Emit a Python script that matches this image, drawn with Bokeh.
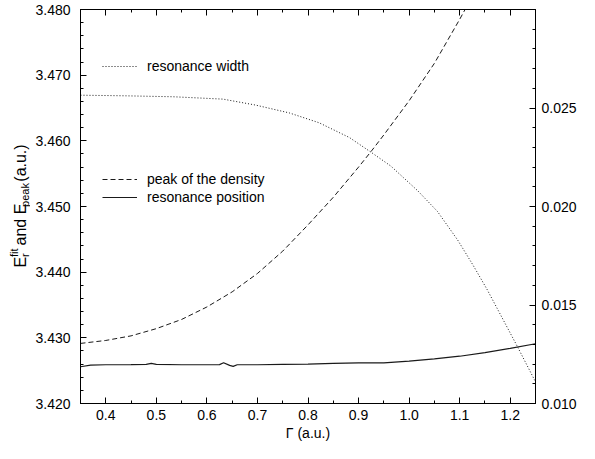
from bokeh.plotting import figure
from bokeh.models import (Range1d, LinearAxis, FixedTicker, PrintfTickFormatter,
                          Legend, LegendItem, CustomJSTickFormatter)
from bokeh.layouts import row
from bokeh.core.properties import value
from bokeh.embed import file_html
from bokeh.resources import INLINE
from math import pi

# ---- data ----
gamma_width = [0.35, 0.436, 0.534, 0.632, 0.696, 0.763, 0.822, 0.882, 0.925, 0.964,
               1.017, 1.056, 1.096, 1.127, 1.154, 1.215, 1.252]
width_values = [0.02565, 0.02562, 0.02557, 0.02545, 0.02515, 0.02475, 0.02425, 0.0235,
                0.02275, 0.02205, 0.0208, 0.01975, 0.0183, 0.0170, 0.0158, 0.01285, 0.0110]

gamma_peak = [0.35, 0.40, 0.45, 0.50, 0.55, 0.60, 0.65, 0.70, 0.75, 0.80, 0.85, 0.90,
              0.925, 0.95, 1.00, 1.05, 1.10, 1.15]
peak_values = [3.42915, 3.4296, 3.4303, 3.4314, 3.4328, 3.4347, 3.4370, 3.4398, 3.4432,
               3.4472, 3.4514, 3.4560, 3.4584, 3.4609, 3.4661, 3.4718, 3.4785, 3.4855]

gamma_pos = [0.35, 0.37, 0.40, 0.45, 0.48, 0.49, 0.50, 0.55, 0.60, 0.625, 0.633, 0.645,
             0.652, 0.66, 0.70, 0.75, 0.80, 0.85, 0.90, 0.95, 1.00, 1.05, 1.10, 1.15,
             1.20, 1.25]
pos_values = [3.4256, 3.42585, 3.4259, 3.42592, 3.42595, 3.4261, 3.42595, 3.4259, 3.4259,
              3.42592, 3.4262, 3.4258, 3.42565, 3.4259, 3.4259, 3.42595, 3.4260, 3.4261,
              3.4262, 3.4262, 3.42645, 3.4268, 3.4272, 3.42775, 3.4284, 3.4291]

x_ticks = [0.4, 0.5, 0.6, 0.7, 0.8, 0.9, 1.0, 1.1, 1.2]
x_minor = [0.35, 0.45, 0.55, 0.65, 0.75, 0.85, 0.95, 1.05, 1.15, 1.25]
y_ticks = [3.42, 3.43, 3.44, 3.45, 3.46, 3.47, 3.48]
y_minor = [3.42 + 0.002 * i for i in range(31)]
w_ticks = [0.010, 0.015, 0.020, 0.025]
w_minor = [0.010 + 0.001 * i for i in range(21)]

# y-axis title pieces: (text, font size, kind, gap before in px)
ylabel_parts = [("E", 16, "main", 0.0), ("r", 11, "sub", 1.0), ("fit", 11, "sup", 0.0),
                ("and E", 16, "main", 4.5), ("peak", 11, "sub", 1.5),
                ("(a.u.)", 16, "main", 4.5)]

FONT = "Liberation Sans"
FS = "14px"
H = 443
LW = 30          # width of the strip carrying the rotated y title
MAIN_W = 579 - LW

# ---- main chart ----
p = figure(width=MAIN_W, height=H, x_range=Range1d(0.35, 1.25), y_range=Range1d(3.42, 3.48),
           output_backend="svg", toolbar_location=None,
           min_border_left=50, min_border_right=43, min_border_top=9, min_border_bottom=39)
p.extra_y_ranges = {"w": Range1d(0.010, 0.030)}
p.grid.visible = False
p.outline_line_color = "black"
p.outline_line_width = 1


def style(ax):
    ax.axis_line_color = "black"
    ax.major_tick_line_color = "black"
    ax.minor_tick_line_color = "black"
    ax.major_tick_in = 6
    ax.major_tick_out = 0
    ax.minor_tick_in = 3
    ax.minor_tick_out = 0
    ax.major_label_text_font = FONT
    ax.major_label_text_font_size = FS
    ax.major_label_text_color = "black"
    ax.axis_label_text_font = FONT
    ax.axis_label_text_font_size = FS
    ax.axis_label_text_font_style = "normal"
    ax.axis_label_text_color = "black"


xa = p.xaxis[0]
xa.ticker = FixedTicker(ticks=x_ticks, minor_ticks=x_minor)
xa.formatter = PrintfTickFormatter(format="%.1f")
xa.axis_label = "Γ (a.u.)"
style(xa)
xa.major_label_standoff = 6
xa.axis_label_standoff = 2

ya = p.yaxis[0]
ya.ticker = FixedTicker(ticks=y_ticks, minor_ticks=y_minor)
ya.formatter = PrintfTickFormatter(format="%.3f")
style(ya)
ya.major_label_standoff = 10

top = LinearAxis(ticker=FixedTicker(ticks=x_ticks, minor_ticks=x_minor),
                 formatter=CustomJSTickFormatter(code="return ''"))
style(top)
top.major_label_standoff = 0
p.add_layout(top, "above")

right = LinearAxis(y_range_name="w", ticker=FixedTicker(ticks=w_ticks, minor_ticks=w_minor),
                   formatter=PrintfTickFormatter(format="%.3f"))
style(right)
right.major_label_standoff = 6
p.add_layout(right, "right")

r_w = p.line(gamma_width, width_values, y_range_name="w", line_color="#1a1a1a",
             line_width=1, line_dash="1 2")
r_p = p.line(gamma_peak, peak_values, line_color="#1a1a1a", line_width=1, line_dash="5 3")
r_s = p.line(gamma_pos, pos_values, line_color="#1a1a1a", line_width=1.2)


def make_legend(items, loc):
    return Legend(items=items, location=loc, border_line_color=None, background_fill_alpha=0,
                  padding=0, spacing=0, margin=0, glyph_width=35, glyph_height=18,
                  label_height=18, label_standoff=10, label_text_font=FONT,
                  label_text_font_size=FS, label_text_color="black")


p.add_layout(make_legend([LegendItem(label="resonance width", renderers=[r_w])], (22, 328)))
p.add_layout(make_legend([LegendItem(label="peak of the density", renderers=[r_p]),
                          LegendItem(label="resonance position", renderers=[r_s])], (22, 197)))

# ---- strip with the rotated y title (pixel coordinates) ----
lf = figure(width=LW, height=H, x_range=Range1d(0, LW), y_range=Range1d(0, H),
            output_backend="svg", toolbar_location=None, min_border=0,
            x_axis_location=None, y_axis_location=None)
lf.grid.visible = False
lf.outline_line_color = None

base_x = {"main": 20, "sub": 24, "sup": 13}
char_w = {"E": 0.667, "r": 0.333, "f": 0.278, "i": 0.222, "t": 0.278, " ": 0.278,
          "a": 0.556, "n": 0.556, "d": 0.556, "p": 0.556, "e": 0.556, "k": 0.5,
          "(": 0.333, ")": 0.333, ".": 0.278, "u": 0.556}
pos = 443 - 290.0
prev_sub_w = 0.0
for text, size, kind, gap in ylabel_parts:
    w = sum(char_w[c] for c in text) * size
    if kind == "sup":
        # superscript stacked above the preceding subscript
        pos -= prev_sub_w
        lf.text(x=[base_x[kind]], y=[pos], text=[text], angle=pi / 2,
                text_font=value(FONT), text_font_size=value(f"{size}px"),
                text_color="black", text_align="left", text_baseline="alphabetic")
        pos += max(w, prev_sub_w)
        prev_sub_w = 0.0
        continue
    pos += gap
    lf.text(x=[base_x[kind]], y=[pos], text=[text], angle=pi / 2,
            text_font=value(FONT), text_font_size=value(f"{size}px"),
            text_color="black", text_align="left", text_baseline="alphabetic")
    pos += w
    prev_sub_w = w if kind == "sub" else 0.0

layout = row(lf, p)
open("out.html", "w").write(file_html(layout, INLINE))
